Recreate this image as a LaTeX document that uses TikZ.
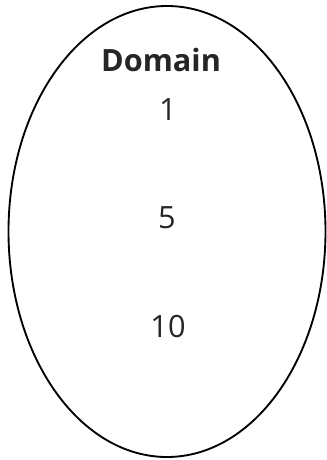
\documentclass[tikz,border=0pt]{standalone}
\usepackage{fontspec}
\setmainfont{Open Sans}
\begin{document}
\begin{tikzpicture}[x=0.75pt,y=-0.75pt,
  lbl/.style={inner sep=0pt,anchor=base,font=\fontsize{23}{28}\selectfont,text=black!85}]
\useasboundingbox (0,0) rectangle (326,460);
\draw[line width=1.4pt] (167,231.5) ellipse [x radius=158.5, y radius=225.5];
\node[lbl,font=\fontsize{23}{28}\selectfont\bfseries] (dom) at (161,71) {Domain};
\node[lbl] (one) at (168,120) {1};
\node[lbl] (five) at (167,228) {5};
\node[lbl] (ten) at (168,337) {10};
\end{tikzpicture}
\end{document}
